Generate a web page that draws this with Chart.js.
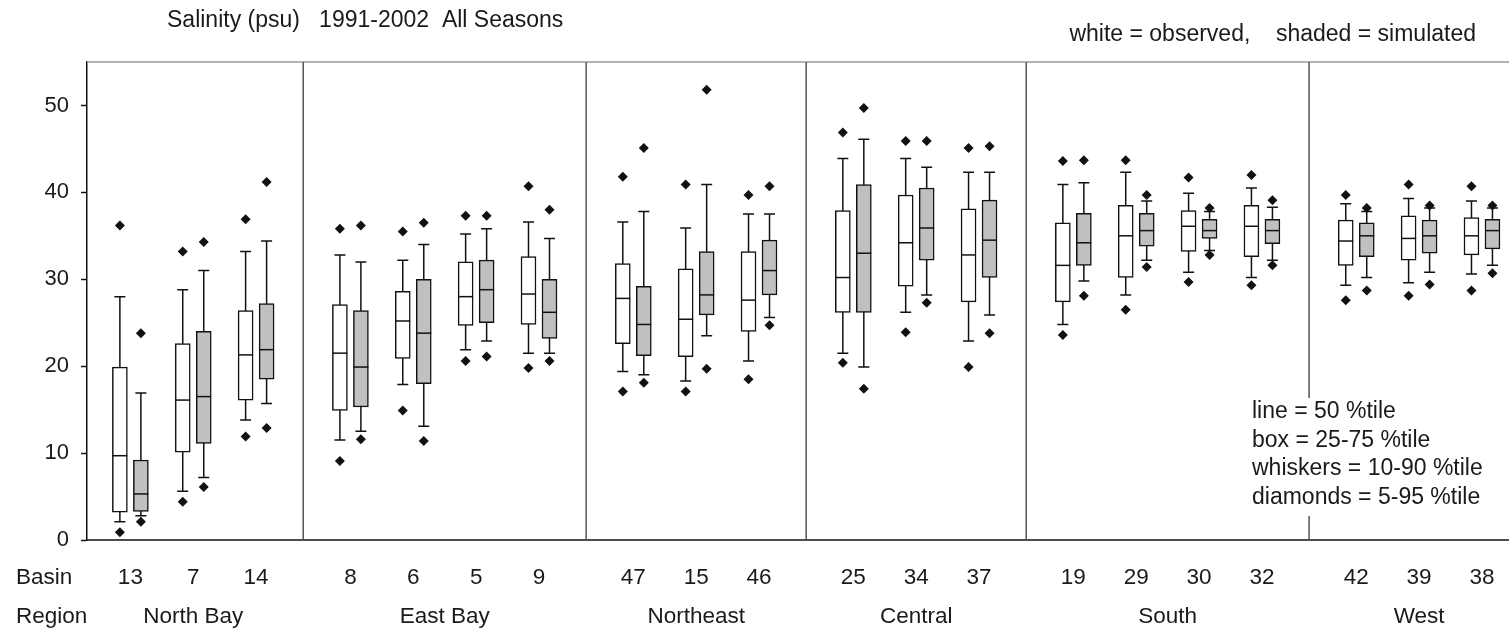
<!DOCTYPE html>
<html>
<head>
<meta charset="utf-8">
<script src="https://cdn.jsdelivr.net/npm/chart.js@4.4.0/dist/chart.umd.min.js"></script>
<style>
  body { margin: 0; background: #fff; }
</style>
</head>
<body>
<canvas id="salChart" width="1509" height="630"></canvas>
<script>
 // basins and the regions they belong to (in order)
 var basins = ["13", "7", "14", "8", "6", "5", "9", "47", "15", "46", "25", "34", "37", "19", "29", "30", "32", "42", "39", "38"];
 var regions = ["North Bay", "East Bay", "Northeast", "Central", "South", "West"];
 var regionSize = [3, 4, 3, 3, 4, 3];
 var yTicks = [0, 10, 20, 30, 40, 50];

 // observed percentiles
 var obsP5  = [0.9, 4.4, 11.9, 9.1, 14.9, 20.6, 19.8, 17.1, 17.1, 18.5, 20.4, 23.9, 19.9, 23.6, 26.5, 29.7, 29.3, 27.6, 28.1, 28.7];
 var obsP10 = [2.1, 5.6, 13.8, 11.5, 17.9, 21.9, 21.5, 19.4, 18.3, 20.6, 21.5, 26.2, 22.9, 24.8, 28.2, 30.8, 30.2, 29.3, 29.6, 30.6];
 var obsP25 = [3.2, 10.1, 16.1, 14.9, 20.9, 24.7, 24.8, 22.6, 21.1, 24.0, 26.2, 29.2, 27.4, 27.4, 30.2, 33.2, 32.6, 31.6, 32.2, 32.8];
 var obsP50 = [9.7, 16.1, 21.3, 21.5, 25.2, 28.0, 28.3, 27.8, 25.4, 27.6, 30.2, 34.2, 32.8, 31.6, 35.0, 36.1, 36.1, 34.4, 34.7, 35.0];
 var obsP75 = [19.9, 22.6, 26.4, 27.1, 28.6, 32.0, 32.6, 31.8, 31.2, 33.2, 37.9, 39.7, 38.1, 36.5, 38.5, 37.9, 38.5, 36.8, 37.3, 37.1];
 var obsP90 = [28.0, 28.8, 33.2, 32.8, 32.2, 35.2, 36.6, 36.6, 35.9, 37.5, 43.9, 43.9, 42.3, 40.9, 42.3, 39.9, 40.5, 38.7, 39.3, 39.0];
 var obsP95 = [36.2, 33.2, 36.9, 35.8, 35.5, 37.3, 40.7, 41.8, 40.9, 39.7, 46.9, 45.9, 45.1, 43.6, 43.7, 41.7, 42.0, 39.7, 40.9, 40.7];

 // simulated percentiles
 var simP5  = [2.1, 6.1, 12.9, 11.6, 11.4, 21.1, 20.6, 18.1, 19.7, 24.7, 17.4, 27.3, 23.8, 28.1, 31.4, 32.8, 31.6, 28.7, 29.4, 30.7];
 var simP10 = [2.8, 7.2, 15.7, 12.5, 13.1, 22.9, 21.5, 19.0, 23.5, 25.6, 19.9, 28.2, 25.9, 29.8, 32.2, 33.3, 32.2, 30.2, 30.8, 31.6];
 var simP25 = [3.3, 11.1, 18.5, 15.3, 18.0, 25.0, 23.2, 21.2, 25.9, 28.2, 26.2, 32.2, 30.2, 31.6, 33.8, 34.7, 34.1, 32.6, 33.0, 33.5];
 var simP50 = [5.3, 16.5, 21.9, 19.9, 23.8, 28.8, 26.2, 24.8, 28.2, 31.0, 33.0, 35.9, 34.5, 34.2, 35.6, 35.6, 35.6, 35.0, 35.0, 35.6];
 var simP75 = [9.2, 24.0, 27.2, 26.4, 30.0, 32.2, 30.0, 29.2, 33.2, 34.5, 40.9, 40.5, 39.1, 37.6, 37.6, 36.9, 36.9, 36.5, 36.8, 36.9];
 var simP90 = [16.9, 31.0, 34.4, 32.0, 34.0, 35.8, 34.7, 37.8, 40.9, 37.5, 46.1, 42.9, 42.3, 41.1, 39.0, 37.8, 38.3, 37.8, 38.2, 38.2];
 var simP95 = [23.8, 34.3, 41.2, 36.2, 36.5, 37.3, 38.0, 45.1, 51.8, 40.7, 49.7, 45.9, 45.3, 43.7, 39.7, 38.2, 39.1, 38.2, 38.5, 38.5];

 var FONT = "'Liberation Sans', Arial, sans-serif";
 var TXT = '#1a1a1a';
 var OFF = 0.167;      // pair offset from basin centre, in slot units
 var BOXW = 15;
 var CAPW = 11;

 // x slot of every basin: one slot per basin, plus half a slot between regions
 var xPos = [];
 var k = 0;
 regionSize.forEach(function (n, g) {
   for (var i = 0; i < n; i++) { xPos.push(k + g * 0.5); k++; }
 });

 function boxData(lo, hi, dx) {
   return xPos.map(function (x, i) { return { x: x + dx, y: [lo[i], hi[i]] }; });
 }
 function diamondData(lo, hi, dx) {
   var d = [];
   xPos.forEach(function (x, i) {
     d.push({ x: x + dx, y: lo[i] });
     d.push({ x: x + dx, y: hi[i] });
   });
   return d;
 }

 function drawWhiskers(ctx, xs, ys, lo, hi, dx) {
   xPos.forEach(function (x, i) {
     var px = xs.getPixelForValue(x + dx);
     var y1 = ys.getPixelForValue(lo[i]), y2 = ys.getPixelForValue(hi[i]);
     ctx.beginPath();
     ctx.moveTo(px, y1); ctx.lineTo(px, y2);
     ctx.moveTo(px - CAPW / 2, y1); ctx.lineTo(px + CAPW / 2, y1);
     ctx.moveTo(px - CAPW / 2, y2); ctx.lineTo(px + CAPW / 2, y2);
     ctx.stroke();
   });
 }

 function drawMedians(ctx, xs, ys, med, dx) {
   xPos.forEach(function (x, i) {
     var px = xs.getPixelForValue(x + dx);
     var py = ys.getPixelForValue(med[i]);
     ctx.beginPath();
     ctx.moveTo(px - BOXW / 2, py); ctx.lineTo(px + BOXW / 2, py);
     ctx.stroke();
   });
 }

 var legendLines = ["line = 50 %tile", "box = 25-75 %tile", "whiskers = 10-90 %tile", "diamonds = 5-95 %tile"];

 var boxParts = {
   id: 'boxParts',
   beforeDatasetsDraw: function (chart) {
     var ctx = chart.ctx, xs = chart.scales.x, ys = chart.scales.y;
     ctx.save();
     ctx.strokeStyle = '#111';
     ctx.lineWidth = 1.5;
     drawWhiskers(ctx, xs, ys, obsP10, obsP90, -OFF);
     drawWhiskers(ctx, xs, ys, simP10, simP90, OFF);
     ctx.restore();
   },
   afterDatasetsDraw: function (chart) {
     var ctx = chart.ctx, xs = chart.scales.x, ys = chart.scales.y;
     ctx.save();
     ctx.strokeStyle = '#111';
     ctx.lineWidth = 1.5;
     drawMedians(ctx, xs, ys, obsP50, -OFF);
     drawMedians(ctx, xs, ys, simP50, OFF);
     ctx.restore();
   },
   afterDraw: function (chart) {
     var ctx = chart.ctx, xs = chart.scales.x, a = chart.chartArea;
     ctx.save();

     // frame: grey top, black bottom axis
     ctx.lineWidth = 1.5;
     ctx.strokeStyle = '#999';
     ctx.beginPath(); ctx.moveTo(a.left, a.top); ctx.lineTo(a.right, a.top); ctx.stroke();
     ctx.strokeStyle = '#111';
     ctx.beginPath(); ctx.moveTo(a.left, a.bottom); ctx.lineTo(a.right, a.bottom); ctx.stroke();

     // region separators
     var legTop = 398, legBottom = 516;
     ctx.strokeStyle = '#555';
     var start = 0;
     for (var g = 0; g < regionSize.length - 1; g++) {
       start += regionSize[g];
       var sx = xs.getPixelForValue((xPos[start - 1] + xPos[start]) / 2);
       ctx.beginPath();
       if (g === regionSize.length - 2) {
         ctx.moveTo(sx, a.top); ctx.lineTo(sx, legTop);
         ctx.moveTo(sx, legBottom); ctx.lineTo(sx, a.bottom);
       } else {
         ctx.moveTo(sx, a.top); ctx.lineTo(sx, a.bottom);
       }
       ctx.stroke();
     }

     ctx.fillStyle = TXT;
     ctx.font = '22.5px ' + FONT;
     ctx.textBaseline = 'alphabetic';

     // basin and region rows
     ctx.textAlign = 'left';
     ctx.fillText('Basin', 16, 584);
     ctx.fillText('Region', 16, 623);
     ctx.textAlign = 'center';
     basins.forEach(function (b, i) {
       ctx.fillText(b, xs.getPixelForValue(xPos[i]), 584);
     });
     var s = 0;
     regions.forEach(function (r, g) {
       var mid = (xPos[s] + xPos[s + regionSize[g] - 1]) / 2;
       ctx.fillText(r, xs.getPixelForValue(mid), 623);
       s += regionSize[g];
     });

     // titles
     ctx.font = '23px ' + FONT;
     ctx.textAlign = 'left';
     ctx.fillText('Salinity (psu)   1991-2002  All Seasons', 167, 27);
     ctx.textAlign = 'right';
     ctx.fillText('white = observed,    shaded = simulated', 1476, 41);

     // key
     ctx.textAlign = 'left';
     legendLines.forEach(function (t, i) {
       ctx.fillText(t, 1252, 418 + i * 28.7);
     });
     ctx.restore();
   }
 };

 var ctxSal = document.getElementById("salChart");
 var salChart = new Chart(ctxSal, {
   type: 'bar',
   data: {
     datasets: [{
       label: 'observed',
       data: boxData(obsP25, obsP75, -OFF),
       backgroundColor: '#ffffff',
       borderColor: '#111',
       borderWidth: 1.5,
       borderSkipped: false,
       barThickness: BOXW,
       grouped: false
     }, {
       label: 'simulated',
       data: boxData(simP25, simP75, OFF),
       backgroundColor: '#c0c0c0',
       borderColor: '#111',
       borderWidth: 1.5,
       borderSkipped: false,
       barThickness: BOXW,
       grouped: false
     }, {
       type: 'scatter',
       label: 'observed 5-95',
       data: diamondData(obsP5, obsP95, -OFF),
       pointStyle: 'rectRot',
       pointRadius: 5,
       backgroundColor: '#111',
       borderColor: '#111',
       borderWidth: 0
     }, {
       type: 'scatter',
       label: 'simulated 5-95',
       data: diamondData(simP5, simP95, OFF),
       pointStyle: 'rectRot',
       pointRadius: 5,
       backgroundColor: '#111',
       borderColor: '#111',
       borderWidth: 0
     }]
   },
   options: {
     responsive: false,
     animation: false,
     layout: { autoPadding: false, padding: { top: 62, bottom: 90, left: 0, right: 0 } },
     plugins: {
       legend: { display: false },
       tooltip: { enabled: false }
     },
     scales: {
       x: {
         type: 'linear',
         offset: false,
         min: -0.69,
         max: 21.93,
         display: false
       },
       y: {
         min: 0,
         max: 55,
         afterBuildTicks: function (s) {
           s.ticks = yTicks.map(function (v) { return { value: v }; });
         },
         afterFit: function (s) { s.width = 87; },
         grid: { display: true, drawOnChartArea: false, color: '#111', tickLength: 6, tickWidth: 1.5 },
         border: { display: true, color: '#111', width: 1.5 },
         ticks: { font: { family: FONT, size: 22 }, color: TXT, padding: 12 }
       }
     }
   },
   plugins: [boxParts]
 });
</script>
</body>
</html>
